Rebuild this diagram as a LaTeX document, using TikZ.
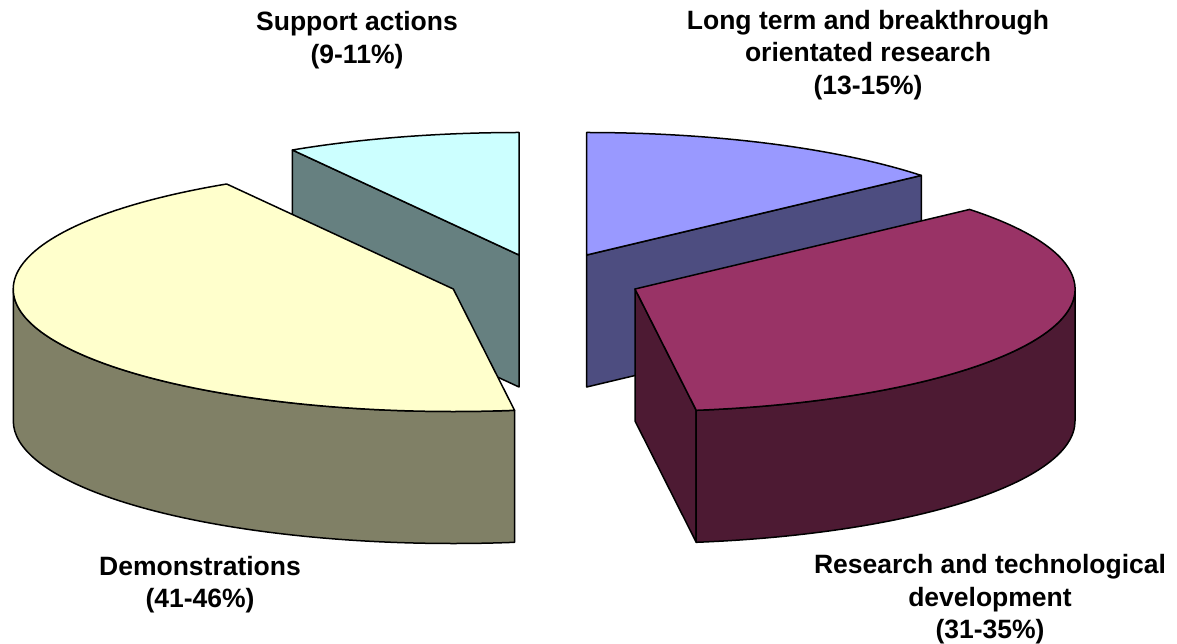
\documentclass[tikz,border=0pt]{standalone}
\usepackage{fontspec}
\setmainfont{Liberation Sans}
\usetikzlibrary{calc}
\definecolor{supTop}{HTML}{CCFFFF}
\definecolor{supSide}{HTML}{668080}
\definecolor{demTop}{HTML}{FFFFCC}
\definecolor{demSide}{HTML}{808066}
\definecolor{ltTop}{HTML}{9999FF}
\definecolor{ltSide}{HTML}{4D4D80}
\definecolor{rtdTop}{HTML}{993366}
\definecolor{rtdSide}{HTML}{4D1A33}
\begin{document}
\begin{tikzpicture}[x=1pt,y=1pt,
  slice/.style={draw=black, line width=1.5pt, line join=round},
  lbl/.style={font=\fontsize{26.5}{32.5}\selectfont\bfseries, align=center, inner sep=0pt},
  ell/.style={x radius=440, y radius=122.5}]
\useasboundingbox (0,0) rectangle (1177,643);
\def\dep{132}
\coordinate (S) at (519,388);
\coordinate (L) at (586.7,388);
\coordinate (D) at (453.3,354);
\coordinate (R) at (635,354);
% Support actions (back)
\filldraw[slice, fill=supSide] (S) -- ++(121:440 and 122.5) -- ++(0,-\dep) -- ($(S)+(0,-\dep)$) -- cycle;
\filldraw[slice, fill=supTop] (S) -- ++(121:440 and 122.5) arc[start angle=121, end angle=90, ell] -- cycle;
% Long term (back)
\filldraw[slice, fill=ltSide] (L) -- ++(40.5:440 and 122.5) -- ++(0,-\dep) -- ($(L)+(0,-\dep)$) -- cycle;
\filldraw[slice, fill=ltTop] (L) -- ++(40.5:440 and 122.5) arc[start angle=40.5, end angle=90, ell] -- cycle;
% Demonstrations (front)
\filldraw[slice, fill=demSide] ($(D)+(-440,0)$) arc[start angle=180, end angle=278, ell] -- ++(0,-\dep) arc[start angle=278, end angle=180, ell] -- cycle;
\filldraw[slice, fill=demTop] (D) -- ++(121:440 and 122.5) arc[start angle=121, end angle=278, ell] -- cycle;
% Research and technological development (front)
\filldraw[slice, fill=rtdSide] (R) -- ++(278:440 and 122.5) -- ++(0,-\dep) -- ($(R)+(0,-\dep)$) -- cycle;
\filldraw[slice, fill=rtdSide] ($(R)+(278:440 and 122.5)$) arc[start angle=278, end angle=360, ell] -- ++(0,-\dep) arc[start angle=360, end angle=278, ell] -- cycle;
\filldraw[slice, fill=rtdTop] (R) -- ++(278:440 and 122.5) arc[start angle=278, end angle=400.5, ell] -- cycle;
% labels
\node[lbl] (sup) at (357,603) {Support actions\\(9-11\%)};
\node[lbl] (lt) at (868,588) {Long term and breakthrough\\orientated research\\(13-15\%)};
\node[lbl] (dem) at (200,58.5) {Demonstrations\\(41-46\%)};
\node[lbl] (rtd) at (990,43.5) {Research and technological\\development\\(31-35\%)};
\end{tikzpicture}
\end{document}
